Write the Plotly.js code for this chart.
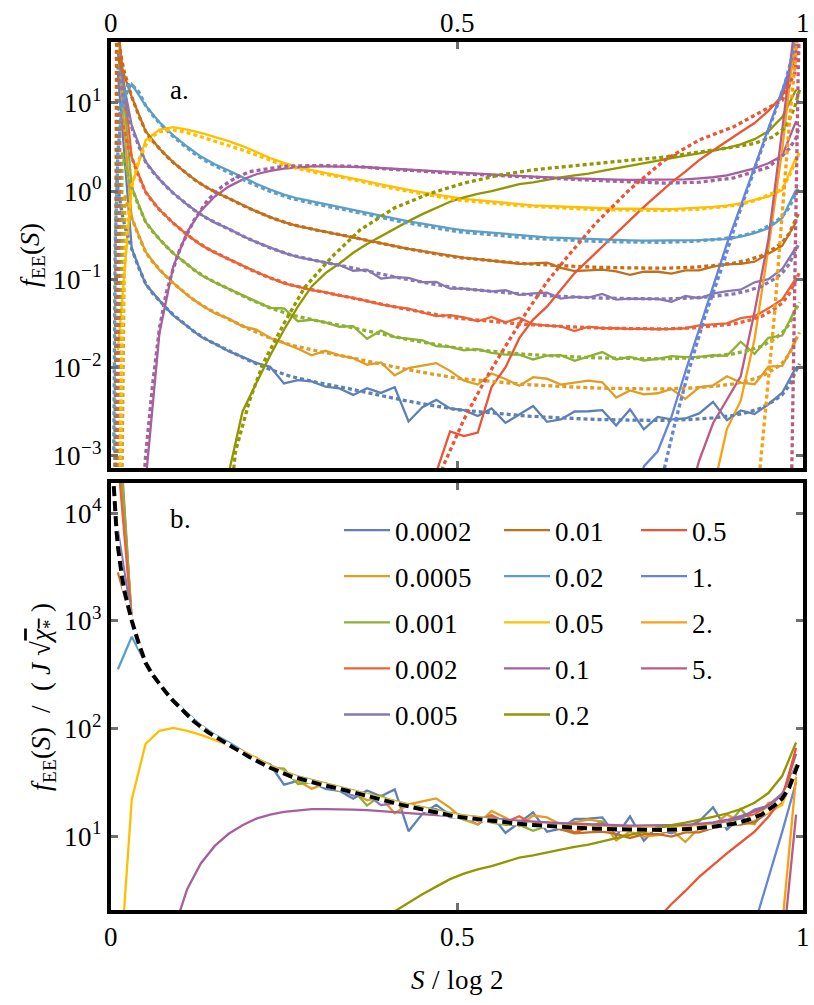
<!DOCTYPE html>
<html><head><meta charset="utf-8">
<script src="https://cdn.plot.ly/plotly-3.0.1.min.js"></script>
<style>
@font-face{font-family:'RefSerif';src:local('Liberation Serif'),local('LiberationSerif'),local('LiberationSerif-Regular'),local('Times New Roman'),local('Tinos');font-style:normal;font-weight:400}
@font-face{font-family:'RefSerif';src:local('Liberation Serif Italic'),local('LiberationSerif-Italic'),local('Times New Roman Italic'),local('Tinos Italic');font-style:italic;font-weight:400}
html,body{margin:0;padding:0;background:#fff}#chart{width:814px;height:1005px}
</style>
</head><body><div id="chart"></div>
<script>
// ---------- data ----------
const S_BINS = [0.01,0.03,0.05,0.07,0.09,0.11,0.13,0.15,0.17,0.19,0.21,0.23,0.25,0.27,0.29,0.31,0.33,0.35,0.37,0.39,0.41,0.43,0.45,0.47,0.49,0.51,0.53,0.55,0.57,0.59,0.61,0.63,0.65,0.67,0.69,0.71,0.73,0.75,0.77,0.79,0.81,0.83,0.85,0.87,0.89,0.91,0.93,0.95,0.97,0.99];
const J_LABELS = ['0.0002','0.0005','0.001','0.002','0.005','0.01','0.02','0.05','0.1','0.2','0.5','1.','2.','5.'];
const COLORS = ['#5E81B5','#E19C24','#8FB032','#EB6235','#8778B3','#C56E1A','#5D9EC7','#FFBF00','#A5609D','#929600','#E95536','#6685D9','#F89F13','#BC5B80'];
// J*sqrt(chi*) for each J
const J_SQRT_CHI = [2.2e-4,5.0e-4,1.1e-3,2.4e-3,5.25e-3,0.0117,0.023,0.0525,0.107,0.19,0.537,1.26,2.0,6.3];
// first bin index where each series has data
const BIN_START = [0,0,0,0,0,0,0,0,2,8,23,37,43,41];

// rescaled data f_EE(S)/(J sqrt(chi*)) at S_BINS
const scaled_0p0002 = [1e5,1010,400,262,177,135,101,84.5,69.5,60,51.3,46.2,30.0,32.6,31.6,27.5,26.3,22.2,26.5,23.4,27.1,11.1,16.1,19.5,15.6,14.9,12.8,15.6,10.7,13.3,16.6,11.0,11.7,14.4,14.5,14.9,10.0,15.2,9.05,12.5,11.7,12.0,13.7,18.5,11.5,14.8,13.5,17.4,23.5,45.7];
const scaled_0p0005 = [8e4,990,410,255,182,132,103,82.5,71.5,58.5,53.7,43.1,37.8,32.6,27.5,30.9,27.5,25.5,21.5,22.8,16.3,19.7,21.0,22.4,18.3,14.2,12.8,17.1,14.8,12.4,15.5,14.9,12.8,13.5,14.2,13.6,9.1,11.0,9.9,10.2,11.4,8.8,11.9,12.5,15.9,13.5,12.9,20.4,20.9,40.8];
const scaled_0p001 = [6.3e4,1005,405,258,179,134,101.5,83.5,70.5,59.2,50.1,43.1,42.4,30.4,31.6,29.5,26.3,26.7,19.2,23.9,20.1,19.2,18.5,15.9,15.6,14.2,14.7,13.3,12.7,12.7,11.2,12.4,12.5,10.8,12.1,13.6,11.2,12.0,10.9,11.4,12.2,11.9,12.0,12.5,12.3,17.8,13.0,19.7,20.9,43.5];
const scaled_0p002 = [3.16e4,1000,408,256,181,133,102,83.5,70.5,59.3,50.4,43.4,37.5,34.3,31.4,29.7,27.2,25.7,23.6,21.6,20.3,19.4,17.5,15.9,16.3,15.4,13.9,15.6,13.5,15.3,12.9,12.4,12.2,10.8,12.1,11.6,11.6,11.4,11.5,11.3,11.4,11.6,12.5,12.8,13.2,15.1,15.9,19.5,24.6,43];
const scaled_0p005 = [6900,1050,410,258,181,134,103,83.5,71.2,59.0,50.3,43.3,38.0,34.0,31.8,29.7,27.6,23.8,24.4,19.4,20.1,19.7,17.7,17.8,14.9,14.9,14.4,13.9,14.3,12.7,13.2,13.4,11.5,12.0,11.8,13.0,11.2,11.5,11.4,11.4,10.6,12.3,11.6,13.1,14.0,14.5,17.6,19.1,24.9,44];
const scaled_0p01 = [2820,1000,409,258,181,134,102.5,83.5,71,59.2,50.3,43.3,37.9,34.2,31.7,29.6,27.6,25.6,23.7,21.9,20.2,18.9,17.8,16.7,15.7,15.0,14.5,13.9,13.3,12.8,12.9,13.2,11.5,10.6,10.8,11.0,10.5,9.6,10.4,10.4,9.9,10.8,10.8,11.9,12.6,12.8,13.5,16.6,20.5,38];
const scaled_0p02 = [355,710,405,262,186,139,107,87.5,74.5,62,52.6,45.3,39.7,35.8,33.2,31.0,28.9,26.8,24.8,22.9,21.1,19.7,18.6,17.4,16.4,15.6,15.1,14.6,14.2,13.7,13.2,13.0,12.8,12.6,12.4,12.2,12.1,12.0,11.9,11.9,11.9,12.0,12.1,12.3,12.4,13.2,14.5,16.5,21.5,45];
const scaled_0p05 = [0.3,21.9,72,95,101,95,87,78.5,70,61.7,52.5,45.2,39.8,35.5,32.9,30.7,28.6,26.5,24.5,22.7,20.9,19.6,18.4,17.3,16.2,15.5,15.0,14.5,14.0,13.5,13.1,12.9,12.7,12.5,12.3,12.1,12.0,12.0,11.9,11.9,11.9,12.1,12.3,12.6,13.0,13.8,15.1,16.5,19.5,46];
const scaled_0p1 = [0.0047,0.23,1.3,3.2,5.6,8.1,10.5,12.6,14.5,15.8,16.8,17.4,17.8,17.8,17.8,17.6,17.4,17.0,16.6,16.2,15.9,15.6,15.3,15.0,14.7,14.4,14.1,13.9,13.6,13.4,13.2,13.0,12.8,12.7,12.6,12.5,12.5,12.5,12.5,12.7,13.0,13.4,14.1,15.3,16.9,19.3,23.5,58];
const scaled_0p2 = [0.0033,0.0166,0.035,0.072,0.141,0.257,0.437,0.617,0.794,1.05,1.32,1.62,2.0,2.40,2.88,3.39,3.98,4.47,4.90,5.25,5.75,6.31,6.61,7.08,7.50,7.94,8.32,8.91,9.55,10.2,11.0,11.7,12.6,13.3,14.1,15.1,16.2,17.8,20.4,25.1,36.3,74];
const scaled_0p5 = [0.0012,0.0035,0.0031,0.0034,0.0112,0.0186,0.040,0.065,0.091,0.141,0.219,0.309,0.437,0.617,0.891,1.23,1.70,2.34,3.09,4.17,5.37,6.92,8.71,11.0,15.1,22.4,66];
const scaled_1 = [0.00016,0.0006,0.00089,0.0022,0.0071,0.022,0.066,0.20,0.54,1.51,4.07,11.0,31.6];
const scaled_2 = [0.0002,0.001,0.0021,0.0105,0.112,1.48,35.5];
const scaled_5 = [0.00004,0.00014,0.00037,0.00068,0.00126,0.0068,0.045,0.79,15.8];

// universal theory curve (black dashed), rescaled units
const TH_X = [0.004,0.006,0.008,0.01,0.013,0.016,0.02,0.025,0.03,0.04,0.05,0.06,0.07,0.08,0.09,0.1,0.12,0.14,0.16,0.18,0.2,0.23,0.26,0.3,0.34,0.38,0.42,0.46,0.5,0.55,0.6,0.65,0.7,0.75,0.8,0.84,0.87,0.9,0.92,0.94,0.96,0.97,0.98,0.99,0.995];
const TH_U = [17800,10000,6760,4900,3390,2510,1820,1320,1000,617,407,316,257,214,180,155,116,92.3,76.7,64.6,54.3,43.1,35.9,30.5,26.5,22.6,19.5,17.1,15.1,13.9,12.8,12.2,11.7,11.5,11.4,11.7,12.2,13.0,14.1,15.8,19.5,22.4,28.2,41.7,50];
// small-J theory: where each dotted curve leaves the bottom, and where it joins the universal curve
const TH_LEAD_X = [0.005,0.015,0.012,0.008,0.007,0.006];
const TH_JOIN_X = [0.008,0.02,0.016,0.013,0.01,0.008];
const TH_FLOOR = 1e-4;
const TH_0p02_X = [0.004,0.006,0.01,0.015,0.02,0.025,0.03,0.04];
const TH_0p02_SCALED = [0.05,10,120,330,560,690,700,580];
// theory f_EE(S) for larger J (panel a units)
const TH_0p05_X = [0.013,0.016,0.02,0.025,0.03,0.04,0.05,0.06,0.07,0.08,0.09,0.1,0.12,0.14,0.16,0.18,0.2,0.25,0.3,0.35,0.4,0.5,0.6,0.7,0.8,0.85,0.9,0.93,0.95,0.97,0.98,0.99,0.995];
const TH_0p05_F = [0.00063,0.025,0.158,0.50,1.12,2.24,3.31,4.17,4.68,4.90,4.90,4.79,4.37,3.89,3.47,3.09,2.75,1.95,1.60,1.35,1.10,0.794,0.676,0.617,0.603,0.624,0.684,0.776,0.912,1.05,1.48,2.19,2.75];
const TH_0p1_X = [0.045,0.05,0.06,0.07,0.08,0.09,0.1,0.12,0.14,0.16,0.18,0.2,0.25,0.3,0.35,0.4,0.5,0.6,0.7,0.8,0.85,0.9,0.93,0.95,0.97,0.98,0.99,0.995];
const TH_0p1_F = [0.00025,0.001,0.0063,0.028,0.0708,0.132,0.224,0.468,0.794,1.12,1.41,1.66,1.91,1.95,1.91,1.78,1.58,1.43,1.32,1.23,1.26,1.41,1.66,1.86,2.51,3.02,3.98,5.62];
const TH_0p2_X = [0.17,0.18,0.2,0.22,0.25,0.28,0.32,0.36,0.41,0.46,0.51,0.56,0.61,0.66,0.7,0.75,0.8,0.85,0.9,0.93,0.955,0.975,0.988,0.995];
const TH_0p2_F = [0.0002,0.00112,0.00417,0.0112,0.0316,0.0813,0.182,0.363,0.646,0.933,1.23,1.51,1.74,1.91,2.07,2.24,2.43,2.75,3.16,3.47,4.07,5.25,8.91,14.1];
const TH_0p5_X = [0.47,0.48,0.51,0.54,0.57,0.6,0.63,0.66,0.7,0.75,0.8,0.85,0.9,0.945,0.97,0.988,0.996];
const TH_0p5_F = [0.0004,0.00076,0.00257,0.00708,0.0174,0.0417,0.0933,0.182,0.427,1.05,2.24,3.80,5.37,8.32,10.7,21.9,79.4];
const TH_1_X = [0.795,0.815,0.834,0.858,0.883,0.906,0.931,0.955,0.974,0.99];
const TH_1_F = [0.0005,0.00234,0.0087,0.0372,0.138,0.513,1.86,6.31,16.6,50.1];
const TH_2_X = [0.936,0.949,0.959,0.967,0.974,0.981,0.988,0.994];
const TH_2_F = [0.0005,0.00562,0.0417,0.282,1.58,6.92,25.1,100];
const TH_5_X = [0.9835,0.986,0.988,0.991,0.993,0.996];
const TH_5_F = [0.0005,0.0087,0.117,1.58,21.9,158];

// ticks
const X_TICKS = [0, 0.5, 1];
const X_TICK_TEXT = ['0', '0.5', '1'];
const TOP_Y_TICKS = [0.001, 0.01, 0.1, 1, 10];
const TOP_Y_TEXT = ['10<sup>\u22123</sup>','10<sup>\u22122</sup>','10<sup>\u22121</sup>','10<sup>0</sup>','10<sup>1</sup>'];
const BOT_Y_TICKS = [10, 100, 1000, 10000];
const BOT_Y_TEXT = ['10<sup>1</sup>','10<sup>2</sup>','10<sup>3</sup>','10<sup>4</sup>'];

// ---------- build ----------
const SCALED = [scaled_0p0002,scaled_0p0005,scaled_0p001,scaled_0p002,scaled_0p005,scaled_0p01,scaled_0p02,scaled_0p05,scaled_0p1,scaled_0p2,scaled_0p5,scaled_1,scaled_2,scaled_5];
const BIG_THEORY = [[TH_0p05_X,TH_0p05_F],[TH_0p1_X,TH_0p1_F],[TH_0p2_X,TH_0p2_F],[TH_0p5_X,TH_0p5_F],[TH_1_X,TH_1_F],[TH_2_X,TH_2_F],[TH_5_X,TH_5_F]];
const FONT = "RefSerif, 'Liberation Serif', Tinos, 'DejaVu Serif', serif";
const traces = [];

// panel a: data (solid)
SCALED.forEach((arr, i) => {
  traces.push({type:'scatter', mode:'lines', x:S_BINS.slice(BIN_START[i]), y:arr.map(v => v*J_SQRT_CHI[i]),
    xaxis:'x', yaxis:'y', line:{color:COLORS[i], width:2.3}, showlegend:false, legendgroup:'g'+i, hoverinfo:'skip'});
});
// panel a: theory (dotted)
const DOT = '4px,3px';
for (let i = 0; i < 14; i++) {
  let xs, ys;
  if (i < 6) {
    xs = [TH_LEAD_X[i]]; ys = [TH_FLOOR];
    TH_X.forEach((x, j) => { if (x >= TH_JOIN_X[i] - 1e-9) { xs.push(x); ys.push(TH_U[j]*J_SQRT_CHI[i]); } });
  } else if (i === 6) {
    xs = TH_0p02_X.slice(); ys = TH_0p02_SCALED.map(v => v*J_SQRT_CHI[i]);
    TH_X.forEach((x, j) => { if (x >= 0.05 - 1e-9) { xs.push(x); ys.push(TH_U[j]*J_SQRT_CHI[i]); } });
  } else {
    xs = BIG_THEORY[i-7][0]; ys = BIG_THEORY[i-7][1];
  }
  traces.push({type:'scatter', mode:'lines', x:xs, y:ys, xaxis:'x', yaxis:'y',
    line:{color:COLORS[i], width:3.3, dash:DOT}, showlegend:false, legendgroup:'g'+i, hoverinfo:'skip'});
}
// panel b: rescaled data
SCALED.forEach((arr, i) => {
  traces.push({type:'scatter', mode:'lines', x:S_BINS.slice(BIN_START[i]), y:arr, name:J_LABELS[i],
    xaxis:'x2', yaxis:'y2', line:{color:COLORS[i], width:2.3}, legendgroup:'g'+i, showlegend:true,
    legend: i < 5 ? 'legend' : (i < 10 ? 'legend2' : 'legend3'), hoverinfo:'skip'});
});
// panel b: universal curve
traces.push({type:'scatter', mode:'lines', x:TH_X, y:TH_U, xaxis:'x2', yaxis:'y2', line:{color:'white', width:4}, showlegend:false, hoverinfo:'skip'});
traces.push({type:'scatter', mode:'lines', x:TH_X, y:TH_U, xaxis:'x2', yaxis:'y2', line:{color:'black', width:4, dash:'10px,5px'}, showlegend:false, hoverinfo:'skip'});

const axBase = {ticks:'inside', ticklen:7, tickwidth:3, tickcolor:'#707070', showline:true, linewidth:4, linecolor:'black',
  mirror:'ticks', showgrid:false, zeroline:false, tickfont:{size:27, family:FONT, color:'black'}};
const legBase = {xanchor:'left', yanchor:'top', bgcolor:'rgba(0,0,0,0)', borderwidth:0, font:{size:27, family:FONT, color:'black'},
  traceorder:'grouped', tracegroupgap:8, itemwidth:46};
const layout = {
  width:814, height:1005, margin:{l:111, r:11, t:42, b:95}, paper_bgcolor:'white', plot_bgcolor:'white',
  font:{family:FONT, size:27, color:'black'},
  xaxis:Object.assign({}, axBase, {domain:[0,1], range:[0,1], anchor:'y', side:'top', tickvals:X_TICKS, ticktext:X_TICK_TEXT, ticklabelstandoff:-5}),
  yaxis:Object.assign({}, axBase, {domain:[0.5092,1], type:'log', range:[-3.14,1.69], anchor:'x', tickvals:TOP_Y_TICKS, ticktext:TOP_Y_TEXT,
    title:{text:'<i>f</i><sub>EE</sub>(<i>S</i>)', font:{size:27, family:FONT}, standoff:6}}),
  xaxis2:Object.assign({}, axBase, {domain:[0,1], range:[0,1], anchor:'y2', side:'bottom', tickvals:X_TICKS, ticktext:X_TICK_TEXT,
    title:{text:'<i>S</i> / log 2', font:{size:27, family:FONT}, standoff:20}}),
  yaxis2:Object.assign({}, axBase, {domain:[0,0.4919], type:'log', range:[0.313,4.28], anchor:'x2', tickvals:BOT_Y_TICKS, ticktext:BOT_Y_TEXT,
    title:{text:'<i>f</i><sub>EE</sub>(<i>S</i>) &nbsp;/ &nbsp;( <i>J</i> \u221A<span style="text-decoration:overline"><i>\u03C7</i><sub>*</sub></span> )', font:{size:27, family:FONT}, standoff:6}}),
  legend:Object.assign({}, legBase, {x:0.3295, y:0.4654}),
  legend2:Object.assign({}, legBase, {x:0.5607, y:0.4654}),
  legend3:Object.assign({}, legBase, {x:0.7587, y:0.4654}),
  annotations:[
    {text:'a.', xref:'paper', yref:'paper', x:0.0997, y:0.9447, xanchor:'center', yanchor:'middle', showarrow:false, font:{size:27, family:FONT}},
    {text:'b.', xref:'paper', yref:'paper', x:0.101, y:0.4505, xanchor:'center', yanchor:'middle', showarrow:false, font:{size:27, family:FONT}}
  ]
};
document.fonts.load("27px RefSerif").catch(()=>{}).finally(() => {
  Plotly.newPlot('chart', traces, layout, {displayModeBar:false, staticPlot:true});
});
</script></body></html>
